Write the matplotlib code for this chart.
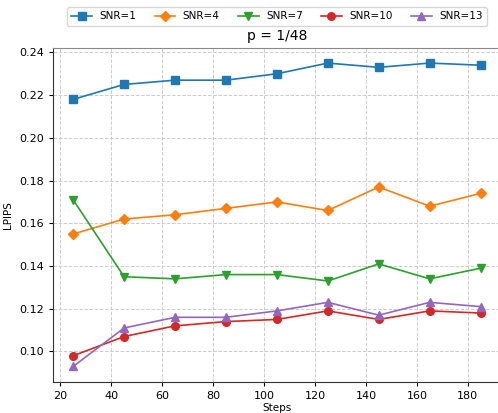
import matplotlib
matplotlib.use("Agg")
import matplotlib.pyplot as plt

steps = [25, 45, 65, 85, 105, 125, 145, 165, 185]
snr_labels = ["SNR=1", "SNR=4", "SNR=7", "SNR=10", "SNR=13"]
snr1 = [0.218, 0.225, 0.227, 0.227, 0.230, 0.235, 0.233, 0.235, 0.234]
snr4 = [0.155, 0.162, 0.164, 0.167, 0.170, 0.166, 0.177, 0.168, 0.174]
snr7 = [0.171, 0.135, 0.134, 0.136, 0.136, 0.133, 0.141, 0.134, 0.139]
snr10 = [0.098, 0.107, 0.112, 0.114, 0.115, 0.119, 0.115, 0.119, 0.118]
snr13 = [0.093, 0.111, 0.116, 0.116, 0.119, 0.123, 0.117, 0.123, 0.121]

series = [snr1, snr4, snr7, snr10, snr13]
markers = ["s", "D", "v", "o", "^"]
colors = ["#1f77b4", "#ff7f0e", "#2ca02c", "#d62728", "#9467bd"]

fig = plt.figure(figsize=(4.98, 4.13), dpi=100)
ax = fig.add_axes([0.106, 0.076, 0.9, 0.808])

for vals, lab, m, c in zip(series, snr_labels, markers, colors):
    ax.plot(steps, vals, marker=m, color=c, label=lab, linewidth=1.2, markersize=5.5)

ax.grid(True, linestyle="--", color="#cccccc", linewidth=0.7)
ax.set_title("p = 1/48", fontsize=10)
ax.set_xlabel("Steps", fontsize=7.5, labelpad=2)
ax.set_ylabel("LPIPS", fontsize=7.5)
ax.tick_params(labelsize=8, length=3)
ax.set_yticks([0.10, 0.12, 0.14, 0.16, 0.18, 0.20, 0.22, 0.24])
ax.set_xticks([20, 40, 60, 80, 100, 120, 140, 160, 180])

ax.spines["right"].set_visible(False)
ax.spines["top"].set_color("#888888")
ax.spines["left"].set_color("#333333")
ax.spines["bottom"].set_color("#333333")

fig.legend(loc="upper center", bbox_to_anchor=(0.556, 0.995), ncol=5, fontsize=7.5,
           handlelength=2.0, columnspacing=1.75, borderpad=0.4, handletextpad=0.7)

fig.savefig("out.png", dpi=100)
